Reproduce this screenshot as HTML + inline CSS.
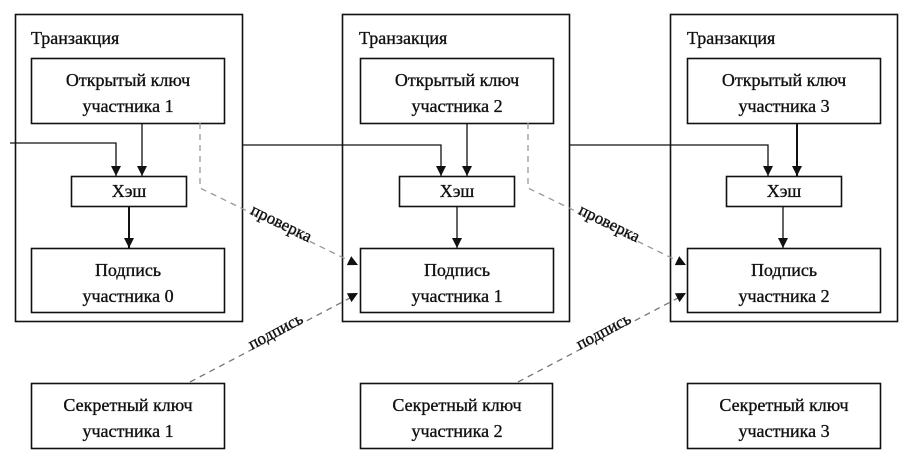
<!DOCTYPE html>
<html><head><meta charset="utf-8"><style>
html,body{margin:0;padding:0;background:#fff;}
svg text{font-family:"Liberation Serif",serif;fill:#111;stroke:#111;stroke-width:0.35;}
</style></head><body>
<svg width="914" height="463" viewBox="0 0 914 463" xmlns="http://www.w3.org/2000/svg">
<defs>
<marker id="a" viewBox="0 0 10 10" refX="10" refY="5" markerWidth="10" markerHeight="10" markerUnits="userSpaceOnUse" orient="auto"><path d="M0,0 L10,5 L0,10 z" fill="#111"/></marker>
</defs>
<g fill="none" stroke="#111" stroke-width="1.6">
<rect x="15.5" y="14.5" width="227" height="307"/>
<rect x="31.5" y="58.5" width="193" height="65"/>
<rect x="71.5" y="176.5" width="115" height="30"/>
<rect x="31.5" y="248.5" width="193" height="64"/>
<rect x="342.5" y="14.5" width="227" height="307"/>
<rect x="360.5" y="58.5" width="193" height="65"/>
<rect x="399.5" y="176.5" width="115" height="30"/>
<rect x="360.5" y="248.5" width="193" height="64"/>
<rect x="670.5" y="14.5" width="227" height="307"/>
<rect x="687.5" y="58.5" width="193" height="65"/>
<rect x="726.5" y="176.5" width="115" height="30"/>
<rect x="687.5" y="248.5" width="193" height="64"/>
<rect x="31.5" y="383.5" width="193" height="65"/>
<rect x="360.5" y="383.5" width="192" height="65"/>
<rect x="687.5" y="383.5" width="193" height="65"/>
</g>
<g fill="none" stroke="#111" stroke-width="1.3" marker-end="url(#a)">
<path d="M10,143 H116 V176"/>
<path d="M142,123 V176"/>
<path d="M129,206 V248" stroke-width="2"/>
<path d="M242,145 H441 V176"/>
<path d="M467,123 V176"/>
<path d="M457,206 V248"/>
<path d="M570,145 H768 V176"/>
<path d="M797,123 V176" stroke-width="2"/>
<path d="M783,206 V248"/>
</g>
<g fill="none" stroke-width="1.3" stroke-dasharray="6,5">
<path d="M200,123 V188 L350,261" stroke="#999"/>
<path d="M528,123 V188 L678,261" stroke="#999"/>
<path d="M190,382 L350,298" stroke="#777"/>
<path d="M518,382 L678,298" stroke="#777"/>
</g>
<g fill="#111">
<polygon points="358,265 346.8,265.1 351.2,256.1"/>
<polygon points="686,265 674.8,265.1 679.2,256.1"/>
<polygon points="358,293 351.5,302.1 346.9,293.3"/>
<polygon points="686,293 679.5,302.1 674.9,293.3"/>
</g>
<g font-size="18">
<text x="31" y="44">Транзакция</text>
<text x="359" y="44">Транзакция</text>
<text x="687" y="44">Транзакция</text>
<g text-anchor="middle">
<text x="128" y="86">Открытый ключ</text><text x="128" y="112">участника 1</text>
<text x="457" y="86">Открытый ключ</text><text x="457" y="112">участника 2</text>
<text x="784" y="86">Открытый ключ</text><text x="784" y="112">участника 3</text>
<text x="129" y="197">Хэш</text><text x="457" y="197">Хэш</text><text x="784" y="197">Хэш</text>
<text x="128" y="276">Подпись</text><text x="128" y="302">участника 0</text>
<text x="457" y="276">Подпись</text><text x="457" y="302">участника 1</text>
<text x="784" y="276">Подпись</text><text x="784" y="302">участника 2</text>
<text x="128" y="411">Секретный ключ</text><text x="128" y="437">участника 1</text>
<text x="457" y="411">Секретный ключ</text><text x="457" y="437">участника 2</text>
<text x="784" y="411">Секретный ключ</text><text x="784" y="437">участника 3</text>
</g>
<g font-size="17" text-anchor="middle">
<text transform="translate(279,228) rotate(26)">проверка</text>
<text transform="translate(607,228) rotate(26)">проверка</text>
<text transform="translate(278,336) rotate(-28)">подпись</text>
<text transform="translate(606,336) rotate(-28)">подпись</text>
</g>
</g>
</svg>
</body></html>
